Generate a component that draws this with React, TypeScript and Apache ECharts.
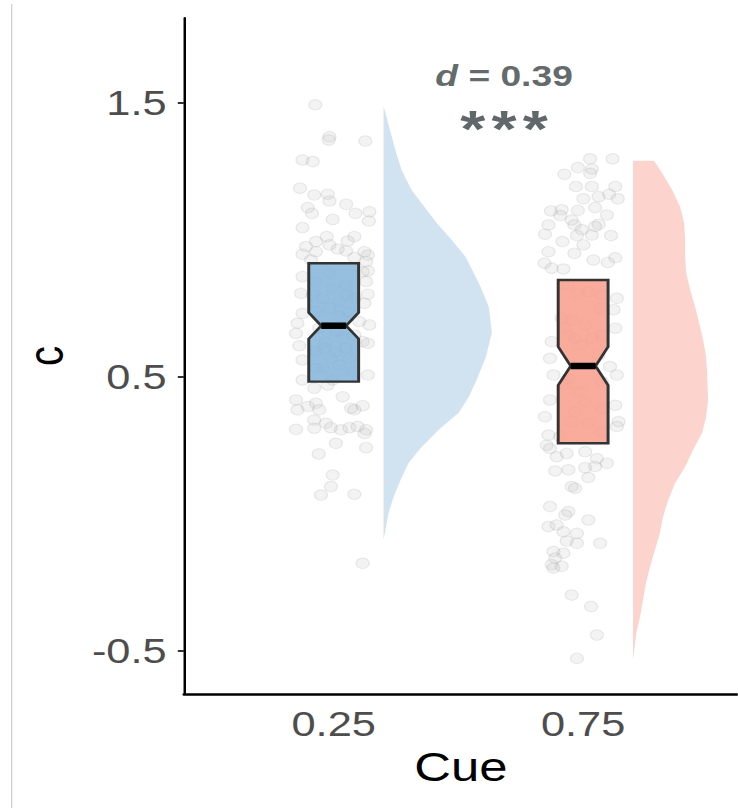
import React, { useEffect, useRef } from "react";
import * as echarts from "echarts";

// ---------- data ----------
const categories = ["0.25", "0.75"];
const catPos = [1, 2];
const yTicks = [-0.5, 0.5, 1.5];

// notched box statistics (no whiskers drawn)
const boxQ1 = [0.483, 0.258];
const boxMedian = [0.687, 0.54];
const boxQ3 = [0.915, 0.854];
const boxNotch = [0.048, 0.07];

// half-violin density outlines: y value, width (in x units)
const violinBlueY = [1.489, 1.328, 1.255, 1.182, 1.062, 1.0, 0.938, 0.88, 0.818, 0.755, 0.661, 0.573, 0.489, 0.427, 0.369, 0.307, 0.245, 0.186, 0.124, 0.062, 0.004, -0.095];
const violinBlueW = [0, 0.047, 0.072, 0.112, 0.213, 0.273, 0.329, 0.361, 0.394, 0.422, 0.434, 0.41, 0.373, 0.341, 0.301, 0.221, 0.153, 0.1, 0.068, 0.04, 0.02, 0];
const violinRedY = [1.289, 1.289, 1.245, 1.182, 1.12, 1.062, 1.0, 0.938, 0.88, 0.818, 0.755, 0.697, 0.635, 0.573, 0.515, 0.416, 0.354, 0.296, 0.234, 0.172, 0.113, 0.051, -0.011, -0.069, -0.131, -0.193, -0.252, -0.314, -0.376, -0.434, -0.533];
const violinRedW = [0, 0.084, 0.116, 0.157, 0.189, 0.205, 0.209, 0.209, 0.213, 0.229, 0.249, 0.265, 0.281, 0.293, 0.297, 0.301, 0.293, 0.277, 0.241, 0.209, 0.169, 0.141, 0.12, 0.108, 0.088, 0.068, 0.052, 0.04, 0.028, 0.013, 0];

// jittered raw observations [x, c]
const bluePoints = [
  [0.926, 1.493], [0.983, 1.377], [0.98, 1.365], [1.127, 1.361], [0.875, 1.292], [0.916, 1.286],
  [0.865, 1.189], [0.922, 1.164], [0.976, 1.167], [0.983, 1.142], [1.05, 1.13], [0.896, 1.118],
  [0.913, 1.097], [1.087, 1.097], [1.143, 1.103], [0.996, 1.075], [1.141, 1.069], [0.875, 1.045],
  [0.972, 1.012], [0.929, 0.994], [1.083, 1.012], [1.056, 0.996], [0.889, 0.976], [0.983, 0.982],
  [1.016, 0.967], [1.05, 0.96], [0.875, 0.948], [0.929, 0.957], [1.123, 0.957], [1.137, 0.945],
  [0.909, 0.927], [1.083, 0.936], [1.13, 0.921], [1.116, 0.884], [0.875, 0.866], [1.137, 0.887],
  [0.983, 0.878], [1.13, 0.848], [0.869, 0.805], [1.05, 0.799], [1.137, 0.802], [1.123, 0.769],
  [1.083, 0.787], [0.875, 0.732], [0.855, 0.696], [1.103, 0.702], [1.143, 0.69], [1.023, 0.72],
  [0.849, 0.659], [1.116, 0.629], [0.862, 0.614], [1.137, 0.623], [0.963, 0.605], [1.009, 0.592],
  [0.875, 0.562], [1.063, 0.568], [0.929, 0.532], [1.137, 0.507], [0.875, 0.489], [0.996, 0.489],
  [0.922, 0.459], [0.976, 0.471], [1.036, 0.428], [0.849, 0.416], [0.896, 0.392], [0.929, 0.404],
  [0.855, 0.38], [1.07, 0.386], [1.116, 0.395], [1.083, 0.38], [0.942, 0.38], [0.922, 0.343],
  [0.969, 0.331], [0.989, 0.315], [1.029, 0.307], [1.063, 0.315], [1.096, 0.319], [1.13, 0.307],
  [1.123, 0.294], [0.849, 0.309], [0.922, 0.313], [1.009, 0.258], [1.13, 0.242], [0.94, 0.219],
  [0.996, 0.142], [0.989, 0.1], [0.949, 0.069], [1.083, 0.072], [1.116, -0.18],
  [0.929, 0.848], [0.996, 0.824], [1.05, 0.836], [0.956, 0.787], [1.023, 0.775], [0.929, 0.738],
  [0.983, 0.751], [1.063, 0.738], [0.942, 0.678], [1.009, 0.665], [0.969, 0.629], [1.036, 0.641],
  [0.929, 0.592], [0.989, 0.568], [1.05, 0.605], [0.956, 0.532], [1.023, 0.544], [1.076, 0.519],
  [0.916, 0.799], [1.083, 0.653],
];
const redPoints = [
  [2.028, 1.296], [2.118, 1.296], [1.979, 1.264], [2.035, 1.259], [1.925, 1.24], [2.028, 1.243],
  [1.971, 1.195], [2.035, 1.195], [2.129, 1.195], [2.001, 1.15], [2.062, 1.158], [2.104, 1.167],
  [2.139, 1.15], [2.048, 1.118], [1.871, 1.106], [1.914, 1.11], [1.979, 1.108], [1.908, 1.089],
  [2.095, 1.091], [1.954, 1.073], [1.861, 1.055], [1.965, 1.055], [2.062, 1.057], [2.048, 1.049],
  [1.995, 1.037], [1.847, 1.021], [1.975, 1.016], [2.035, 1.018], [2.112, 1.016], [1.917, 0.994],
  [2.001, 0.982], [1.861, 0.957], [1.965, 0.951], [2.129, 0.935], [2.041, 0.927], [2.099, 0.918],
  [1.845, 0.915], [1.874, 0.897], [1.921, 0.894], [1.941, 0.836], [1.979, 0.805], [2.021, 0.811],
  [2.075, 0.799], [2.135, 0.787], [2.068, 0.751], [2.122, 0.745], [1.954, 0.708], [2.008, 0.69],
  [1.928, 0.678], [2.129, 0.678], [1.968, 0.641], [2.035, 0.641], [1.874, 0.629], [1.941, 0.653],
  [2.075, 0.653], [1.995, 0.617], [1.914, 0.714], [1.867, 0.568], [2.062, 0.58], [2.108, 0.538],
  [1.881, 0.507], [2.135, 0.507], [1.941, 0.495], [2.075, 0.483], [1.981, 0.446], [1.928, 0.471],
  [1.867, 0.416], [2.008, 0.41], [2.129, 0.397], [1.968, 0.373], [2.075, 0.385], [1.847, 0.355],
  [2.142, 0.337], [2.135, 0.319], [1.954, 0.337], [2.021, 0.331], [1.861, 0.288], [1.908, 0.282],
  [2.075, 0.3], [1.854, 0.251], [1.867, 0.239], [1.894, 0.209], [1.934, 0.221], [2.008, 0.227],
  [2.055, 0.202], [2.095, 0.185], [2.048, 0.173], [1.888, 0.157], [1.941, 0.161], [2.008, 0.169],
  [2.021, 0.133], [1.954, 0.1], [1.968, 0.094], [1.867, 0.027], [1.941, 0.009], [1.928, -0.004],
  [2.021, -0.022], [1.861, -0.046], [1.894, -0.04], [1.921, -0.065], [1.975, -0.071], [1.934, -0.099],
  [1.975, -0.107], [2.068, -0.107], [1.881, -0.137], [1.888, -0.161], [1.921, -0.143], [1.874, -0.185],
  [1.881, -0.197], [1.914, -0.191], [1.954, -0.296], [2.032, -0.338], [2.055, -0.442], [1.975, -0.527],
];

// annotation (effect size and significance), in data coordinates
const annotX = 1.683;
const annotDY = 1.602;
const annotStarsY = 1.407;
const effectLabel = "0.39";

// ---------- styling ----------
const STRETCH = 1.24;
const PAGE_W = 738;
const PAGE_H = 808;
const FONT = "Liberation Sans";
const boxFill = ["rgba(133,181,218,0.86)", "rgba(248,158,138,0.86)"];
const violinFill = ["#D1E3F0", "#FCD4CD"];
const violinOffset = 0.2;
const boxHalfW = 0.1;
const annotColor = "#384243";
const pointStyle = { color: "rgba(185,185,185,0.22)", borderColor: "rgba(150,150,150,0.22)", borderWidth: 1 };

export default function App() {
  const ref = useRef<HTMLDivElement>(null);

  useEffect(() => {
    if (!ref.current) return;
    const chart = echarts.init(ref.current, null, { renderer: "svg" });
    const violinY = [violinBlueY, violinRedY];
    const violinW = [violinBlueW, violinRedW];

    const option: any = {
      animation: false,
      backgroundColor: "#ffffff",
      textStyle: { fontFamily: FONT },
      grid: { left: 148.4, right: 0, top: 18, bottom: 114, containLabel: false },
      xAxis: {
        type: "value",
        min: 0.4,
        max: 2.62,
        splitLine: { show: false },
        axisLine: { show: true, onZero: false, lineStyle: { color: "#000", width: 2.5 } },
        axisTick: { show: false },
        axisLabel: {
          customValues: catPos,
          formatter: (v: number) => {
            const i = catPos.indexOf(v);
            return i >= 0 ? categories[i] : "";
          },
          fontSize: 35,
          color: "#4D4D4D",
          margin: 12,
          fontFamily: FONT,
        },
        name: "Cue",
        nameLocation: "middle",
        nameGap: 51,
        nameTextStyle: { fontSize: 41, color: "#000", fontFamily: FONT },
      },
      yAxis: {
        type: "value",
        min: -0.657,
        max: 1.81,
        splitLine: { show: false },
        axisLine: { show: true, onZero: false, lineStyle: { color: "#000", width: 2 } },
        axisTick: { show: true, customValues: yTicks, length: 5, lineStyle: { color: "#333", width: 2 } },
        axisLabel: {
          customValues: yTicks,
          formatter: (v: number) => String(v),
          fontSize: 35,
          color: "#4D4D4D",
          margin: 14,
          fontFamily: FONT,
        },
        name: "c",
        nameLocation: "middle",
        nameGap: 91,
        nameTextStyle: { fontSize: 40, color: "#000", fontFamily: FONT },
      },
      graphic: [
        {
          type: "line",
          shape: { x1: 9.4, y1: 4, x2: 9.4, y2: PAGE_H },
          style: { stroke: "#CFCFCF", lineWidth: 1 },
          silent: true,
        },
      ],
      series: [
        {
          type: "scatter",
          data: bluePoints,
          symbolSize: 10.5,
          itemStyle: pointStyle,
          z: 1,
          silent: true,
        },
        {
          type: "scatter",
          data: redPoints,
          symbolSize: 10.5,
          itemStyle: pointStyle,
          z: 1,
          silent: true,
        },
        {
          type: "custom",
          coordinateSystem: "cartesian2d",
          data: catPos.map((p) => [p, 0.5]),
          z: 2,
          silent: true,
          renderItem: (params: any, api: any) => {
            const g = params.dataIndex;
            const x0 = catPos[g] + violinOffset;
            const ys = violinY[g];
            const ws = violinW[g];
            const pts: number[][] = [];
            for (let i = 0; i < ys.length; i++) pts.push(api.coord([x0 + ws[i], ys[i]]));
            pts.push(api.coord([x0, ys[ys.length - 1]]));
            pts.push(api.coord([x0, ys[0]]));
            return { type: "polygon", shape: { points: pts }, style: { fill: violinFill[g] } };
          },
        },
        {
          type: "custom",
          coordinateSystem: "cartesian2d",
          data: catPos.map((p) => [p, 0.5]),
          z: 3,
          silent: true,
          renderItem: (params: any, api: any) => {
            const g = params.dataIndex;
            const xc = catPos[g];
            const hw = boxHalfW;
            const nw = boxHalfW / 2;
            const q1 = boxQ1[g];
            const q3 = boxQ3[g];
            const md = boxMedian[g];
            const nt = boxNotch[g];
            const poly = [
              [xc - hw, q3], [xc + hw, q3], [xc + hw, md + nt], [xc + nw, md], [xc + hw, md - nt],
              [xc + hw, q1], [xc - hw, q1], [xc - hw, md - nt], [xc - nw, md], [xc - hw, md + nt],
            ].map((p) => api.coord(p));
            const a = api.coord([xc - nw, md]);
            const b = api.coord([xc + nw, md]);
            return {
              type: "group",
              children: [
                {
                  type: "polygon",
                  shape: { points: poly },
                  style: { fill: boxFill[g], stroke: "#333333", lineWidth: 2.4, lineJoin: "miter" },
                },
                {
                  type: "line",
                  shape: { x1: a[0], y1: a[1], x2: b[0], y2: b[1] },
                  style: { stroke: "#000", lineWidth: 6.5 },
                },
              ],
            };
          },
        },
        {
          type: "scatter",
          data: [[annotX, annotDY]],
          symbolSize: 0,
          z: 5,
          silent: true,
          label: {
            show: true,
            position: "inside",
            formatter: "{i|d} = " + effectLabel,
            fontSize: 30,
            fontWeight: "bold",
            color: annotColor,
            fontFamily: FONT,
            rich: {
              i: { fontStyle: "italic", fontWeight: "bold", fontSize: 30, color: annotColor, fontFamily: FONT },
            },
          },
        },
        {
          type: "scatter",
          data: [[annotX, annotStarsY]],
          symbolSize: 0,
          z: 5,
          silent: true,
          label: {
            show: true,
            position: "inside",
            formatter: "{s|*}{s|*}{s|*}",
            color: annotColor,
            fontFamily: FONT,
            rich: {
              s: { fontSize: 52, fontWeight: "bold", color: annotColor, padding: [0, 2.5], fontFamily: FONT },
            },
          },
        },
      ],
    };
    chart.setOption(option);
    return () => chart.dispose();
  }, []);

  return (
    <div
      ref={ref}
      style={{
        position: "absolute",
        left: 0,
        top: 0,
        width: PAGE_W / STRETCH,
        height: PAGE_H,
        transform: `scaleX(${STRETCH})`,
        transformOrigin: "0 0",
        background: "#fff",
      }}
    />
  );
}
